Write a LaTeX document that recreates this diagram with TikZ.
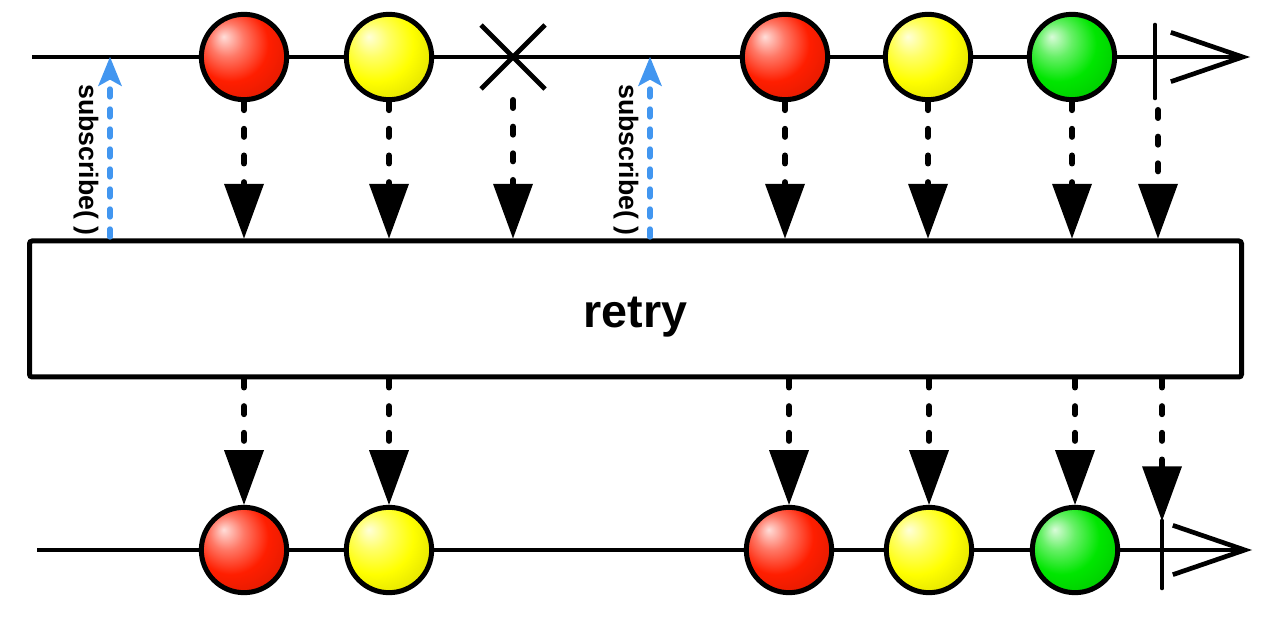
\documentclass[tikz,border=0pt]{standalone}
\usepackage{fontspec}
\setmainfont{Liberation Sans}
\usetikzlibrary{arrows.meta}
\definecolor{subblue}{RGB}{66,150,240}
\definecolor{ballred}{RGB}{255,30,0}
\definecolor{ballyellow}{RGB}{255,255,0}
\definecolor{ballgreen}{RGB}{0,230,0}
\makeatletter
\pgfdeclareradialshading[tikz@ball]{marble}{\pgfqpoint{-12bp}{12bp}}{%
	color(0bp)=(tikz@ball!15!white); color(10bp)=(tikz@ball!60!white);
	color(22bp)=(tikz@ball); color(38bp)=(tikz@ball!85!black);
	color(50bp)=(tikz@ball!58!black); color(62bp)=(tikz@ball!45!black)}
\makeatother

\begin{document}
\begin{tikzpicture}[x=0.75pt, y=-0.75pt,
	ball/.style={circle, draw=black, line width=3.75pt, minimum size=64pt, inner sep=0pt, ball color=#1, shading=marble},
	timeline/.style={line width=3.5pt, -{Straight Barb[length=54pt, width=37pt]}},
	emit/.style={line width=4.5pt, line cap=round, dash pattern=on 6pt off 14pt, -{Triangle[length=41pt, width=30pt, line width=0pt]}},
	subscribe/.style={line width=4pt, line cap=round, dash pattern=on 6pt off 9pt, draw=subblue, -{Stealth[length=22pt, width=18pt, inset=5pt, line width=0pt]}},
	sublabel/.style={rotate=-90, font=\bfseries\fontsize{20}{20}\selectfont}]
\useasboundingbox (0,0) rectangle (1280,630);

	% source line
	\draw[timeline] (32,57) coordinate (s) -- (1250,57) coordinate (e);
	\foreach \x/\c/\n in {244/ballred/1, 389/ballyellow/2, 785/ballred/3, 928/ballyellow/4, 1072/ballgreen/5}
	{
		\node[ball=\c] (t\n) at (\x,57) {};
	}
	\coordinate (err) at (513,57);
	\draw[line width=3.5pt] (err) ++(-32,-32) -- ++(64,64) ++(0,-64) -- ++(-64,64);
	\draw[line width=3.5pt, line cap=round] (1155,25) coordinate (d1) -- (1155,98) coordinate (d2);

	% operator
	\node[draw, line width=3.75pt, rounded corners=2pt, minimum width=909pt, minimum height=102pt, text height=28pt, text depth=0pt, font=\bfseries\fontsize{35}{40}\selectfont] (op) at (635.5,309) {retry};

	% result line
	\draw[timeline] (37,550) coordinate (rs) -- (1252,550) coordinate (re);
	\foreach \x/\c/\n in {244/ballred/1, 389/ballyellow/2, 789/ballred/3, 929/ballyellow/4, 1075/ballgreen/5}
	{
		\node[ball=\c] (b\n) at (\x,550) {};
	}
	\draw[line width=3.5pt, line cap=round] (1162,521) coordinate (f1) -- (1162,588) coordinate (f2);

	% emissions
	\foreach \n in {1,...,5}
	{
		\draw[emit] (t\n.south) -- (t\n.south |- op.north);
		\draw[emit] (op.south -| b\n.north) -- (b\n.north);
	}
	\coordinate (err2) at (513,100);
	\draw[emit] (err2) -- (err2 |- op.north);
	\draw[emit] (1158,110) coordinate (d3) -- (d3 |- op.north);
	\draw[emit] (op.south -| f1) -- (f1);

	% subscriptions
	\foreach \x/\n in {110/1, 650/2}
	{
		\coordinate (u\n) at (\x,237);
		\draw[subscribe] (u\n) -- (u\n |- s);
		\node[sublabel] (l\n) at (\x-24,160) {subscribe( )};
	}
\end{tikzpicture}
\end{document}
